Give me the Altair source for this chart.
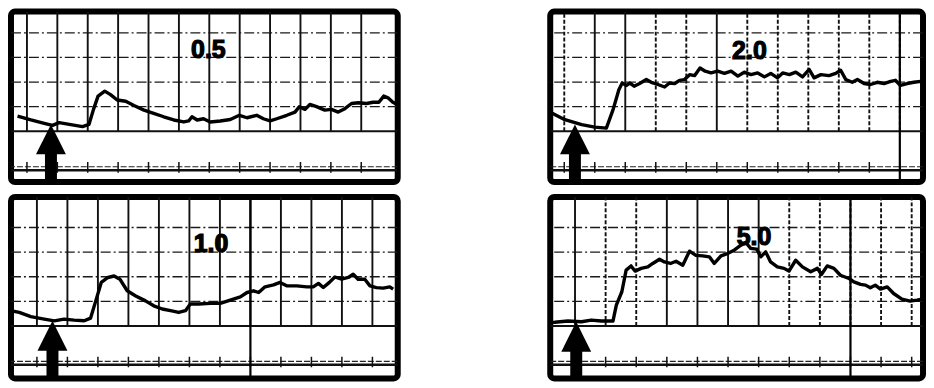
import altair as alt
import pandas as pd

labels = ["0.5", "2.0", "1.0", "5.0"]

# trace 0.5 (top left)
t05 = [-0.31, 0.13, 0.57, 0.84, 1.06, 1.44, 1.83, 2.04, 2.19, 2.34, 2.56, 2.75, 2.97, 3.25,
       3.52, 3.85, 4.17, 4.50, 4.83, 5.16, 5.32, 5.43, 5.60, 5.81, 6.03, 6.36, 6.69, 6.99,
       7.24, 7.56, 7.78, 8.00, 8.22, 8.55, 8.82, 8.96, 9.15, 9.31, 9.53, 9.80, 10.02, 10.24,
       10.46, 10.68, 10.90, 11.17, 11.39, 11.58, 11.74, 11.88, 12.04, 12.2]
v05 = [0.62, 0.46, 0.32, 0.24, 0.35, 0.27, 0.19, 0.28, 0.89, 1.43, 1.63, 1.49, 1.27, 1.22,
       1.05, 0.86, 0.73, 0.59, 0.46, 0.38, 0.42, 0.59, 0.46, 0.51, 0.38, 0.42, 0.48, 0.65,
       0.55, 0.65, 0.51, 0.42, 0.51, 0.65, 0.78, 1.00, 0.89, 1.09, 1.00, 0.86, 0.89, 0.78,
       0.92, 1.13, 1.16, 1.13, 1.18, 1.18, 1.43, 1.36, 1.18, 1.08]

# trace 2.0 (top right)
t20 = [-0.46, -0.41, 0.02, 0.57, 1.00, 1.38, 1.60, 1.79, 1.90, 2.04, 2.15, 2.29, 2.47, 2.69,
       2.85, 3.07, 3.29, 3.45, 3.62, 3.78, 3.94, 4.11, 4.27, 4.45, 4.62, 4.81, 5.03, 5.25,
       5.47, 5.69, 5.90, 6.12, 6.34, 6.56, 6.77, 6.99, 7.16, 7.38, 7.59, 7.81, 8.03, 8.19,
       8.41, 8.68, 8.90, 9.06, 9.23, 9.44, 9.61, 9.83, 10.04, 10.26, 10.48, 10.70, 10.86,
       11.02, 11.24, 11.46, 11.68, 11.85, 12.0]
v20 = [0.78, 0.74, 0.47, 0.27, 0.17, 0.13, 0.88, 1.69, 1.96, 1.86, 1.96, 1.83, 1.94, 2.10,
       1.99, 1.90, 1.80, 1.96, 1.94, 2.07, 2.10, 2.30, 2.26, 2.57, 2.44, 2.37, 2.44, 2.35,
       2.44, 2.24, 2.40, 2.30, 2.37, 2.21, 2.35, 2.17, 2.37, 2.30, 2.40, 2.21, 2.51, 2.17,
       2.30, 2.26, 2.35, 2.48, 2.10, 1.99, 2.10, 1.94, 1.90, 1.99, 1.94, 2.03, 2.07,
       1.86, 1.94, 1.99, 2.03, 1.99, 1.86]

# trace 1.0 (bottom left)
t10 = [-0.85, -0.58, -0.20, 0.24, 0.57, 0.89, 1.22, 1.55, 1.76, 1.93, 2.11, 2.33, 2.53, 2.72,
       2.96, 3.24, 3.56, 3.83, 4.11, 4.38, 4.65, 4.87, 5.03, 5.30, 5.69, 6.01, 6.34, 6.67,
       6.89, 7.10, 7.27, 7.48, 7.76, 7.97, 8.19, 8.52, 8.85, 9.06, 9.23, 9.39, 9.59, 9.77,
       9.99, 10.21, 10.37, 10.53, 10.75, 10.92, 11.13, 11.35, 11.57, 11.68]
v10 = [0.62, 0.55, 0.38, 0.28, 0.21, 0.28, 0.24, 0.21, 0.32, 1.02, 1.77, 1.97, 2.03, 1.90,
       1.43, 1.22, 1.02, 0.82, 0.69, 0.62, 0.55, 0.62, 0.89, 0.89, 0.92, 0.92, 1.05, 1.18,
       1.36, 1.43, 1.36, 1.59, 1.67, 1.77, 1.63, 1.63, 1.59, 1.59, 1.73, 1.56, 1.77, 1.99,
       1.90, 1.97, 2.10, 1.90, 1.90, 1.63, 1.56, 1.54, 1.59, 1.50]

# trace 5.0 (bottom right)
t50 = [-0.81, -0.66, -0.23, 0.21, 0.53, 0.86, 1.24, 1.35, 1.53, 1.67, 1.83, 1.96, 2.16, 2.38,
       2.54, 2.76, 2.92, 3.12, 3.30, 3.52, 3.74, 3.95, 4.17, 4.39, 4.55, 4.77, 4.98, 5.20,
       5.42, 5.58, 5.74, 5.94, 6.07, 6.23, 6.39, 6.61, 6.83, 6.99, 7.21, 7.43, 7.70, 7.92,
       8.05, 8.24, 8.46, 8.67, 8.95, 9.11, 9.33, 9.49, 9.65, 9.81, 9.98, 10.20, 10.41,
       10.68, 10.95, 11.17, 11.34, 11.61]
v50 = [0.14, 0.15, 0.20, 0.17, 0.24, 0.20, 0.20, 0.85, 1.39, 2.27, 2.44, 2.23, 2.34, 2.40,
       2.54, 2.71, 2.60, 2.54, 2.63, 2.47, 3.04, 2.87, 2.85, 2.81, 2.54, 2.85, 2.94, 3.08,
       3.28, 3.39, 3.15, 3.12, 2.81, 3.01, 2.60, 2.40, 2.34, 2.23, 2.67, 2.40, 2.20, 2.34,
       2.09, 2.44, 2.34, 2.06, 1.93, 1.79, 1.69, 1.66, 1.55, 1.66, 1.50, 1.59, 1.32,
       1.09, 1.01, 1.05, 1.09, 0.98]

arrow_x = [0.79, 0.35, 0.51, 0.04]
arrow_tip = [0.28, 0.28, 0.21, 0.17]
label_x = [5.97, 6.07, 5.71, 5.85]
label_y = [3.31, 3.25, 3.31, 3.62]
grid_x = list(range(12))
grid_y = [1, 2, 3, 4]

traces = [(t05, v05), (t20, v20), (t10, v10), (t50, v50)]

# layout per panel: x domain, y domain, size, full-height line index, solid grid indices
layout = [
    dict(xdom=[-0.525, 12.2], ydom=[-2.06, 4.86], w=388, h=171, full=None, solid=grid_x),
    dict(xdom=[-0.46, 11.76], ydom=[-2.06, 4.86], w=374, h=171, full=11, solid=[1, 2, 5]),
    dict(xdom=[-0.85, 11.83], ydom=[-2.13, 5.24], w=388, h=182, full=7, solid=grid_x),
    dict(xdom=[-0.81, 11.37], ydom=[-2.13, 5.24], w=374, h=182, full=9, solid=[0, 3, 4, 5, 6]),
]


def make_panel(k):
    L = layout[k]
    xs = alt.Scale(domain=L["xdom"], nice=False, zero=False)
    ys = alt.Scale(domain=L["ydom"], nice=False, zero=False)

    def X(f):
        return alt.X(f, type="quantitative", scale=xs, axis=None)

    def Y(f):
        return alt.Y(f, type="quantitative", scale=ys, axis=None)

    ymin, ymax = L["ydom"]

    hgrid = alt.Chart(pd.DataFrame({"y": grid_y})).mark_rule(
        color="#1a1a1a", strokeWidth=1.3, strokeDash=[10, 3, 2, 3], clip=True
    ).encode(y=Y("y"))

    vdf = pd.DataFrame({
        "x": grid_x,
        "y0": [0.0] * len(grid_x),
        "y1": [ymax] * len(grid_x),
        "s": ["solid" if i in L["solid"] else "dash" for i in grid_x],
    })
    vgrid = alt.Chart(vdf).mark_rule(color="#111", strokeWidth=1.9, clip=True).encode(
        x=X("x"), y=Y("y0"), y2="y1",
        strokeDash=alt.StrokeDash("s:N", scale=alt.Scale(domain=["solid", "dash"], range=[[1, 0], [4, 2]]), legend=None),
    )

    base = alt.Chart(pd.DataFrame({"y": [0.0]})).mark_rule(
        color="#111", strokeWidth=2, clip=True).encode(y=Y("y"))
    band_d = alt.Chart(pd.DataFrame({"y": [-1.44]})).mark_rule(
        color="#222", strokeWidth=1.2, strokeDash=[6, 2], clip=True).encode(y=Y("y"))
    band_s = alt.Chart(pd.DataFrame({"y": [-1.58]})).mark_rule(
        color="#111", strokeWidth=2.5, clip=True).encode(y=Y("y"))

    tdf = pd.DataFrame({"x": grid_x, "y0": [-1.25] * 12, "y1": [-1.68] * 12})
    ticks = alt.Chart(tdf).mark_rule(color="#111", strokeWidth=1.5, clip=True).encode(
        x=X("x"), y=Y("y0"), y2="y1")

    layers = [hgrid, vgrid, base, band_d, band_s, ticks]

    if L["full"] is not None:
        full = alt.Chart(pd.DataFrame({"x": [L["full"]]})).mark_rule(
            color="#000", strokeWidth=2.2, clip=True).encode(x=X("x"))
        layers.append(full)

    t, v = traces[k]
    line = alt.Chart(pd.DataFrame({"t": t, "v": v})).mark_line(
        color="black", strokeWidth=3.4, clip=True, strokeJoin="round").encode(x=X("t"), y=Y("v"))
    layers.append(line)

    adf = pd.DataFrame({"x": [arrow_x[k]], "tip": [arrow_tip[k]],
                        "top": [arrow_tip[k] - 1.0], "bot": [ymin]})
    shaft = alt.Chart(adf).mark_rule(color="black", strokeWidth=12, clip=True).encode(
        x=X("x"), y=Y("top"), y2="bot")
    head = alt.Chart(adf).mark_point(
        shape="M0,0L1,2L-1,2Z", size=900, filled=True, color="black", opacity=1, clip=True
    ).encode(x=X("x"), y=Y("tip"))
    layers += [shaft, head]

    ldf = pd.DataFrame({"x": [label_x[k]], "y": [label_y[k]], "txt": [labels[k]]})
    txt = alt.Chart(ldf).mark_text(
        font="Liberation Sans", fontSize=25, fontWeight="bold", color="black",
        stroke="black", strokeWidth=1.2, clip=True
    ).encode(x=X("x"), y=Y("y"), text="txt:N")
    layers.append(txt)

    return alt.layer(*layers).properties(width=L["w"], height=L["h"])


p = [make_panel(k) for k in range(4)]

chart = alt.hconcat(
    alt.vconcat(p[0], p[2], spacing=9),
    alt.vconcat(p[1], p[3], spacing=9),
    spacing=147,
).properties(
    padding=0,
    background="white",
).configure_view(stroke="black", strokeWidth=6, cornerRadius=4)

chart.save("out.html", embed_options={"renderer": "svg", "actions": False})
